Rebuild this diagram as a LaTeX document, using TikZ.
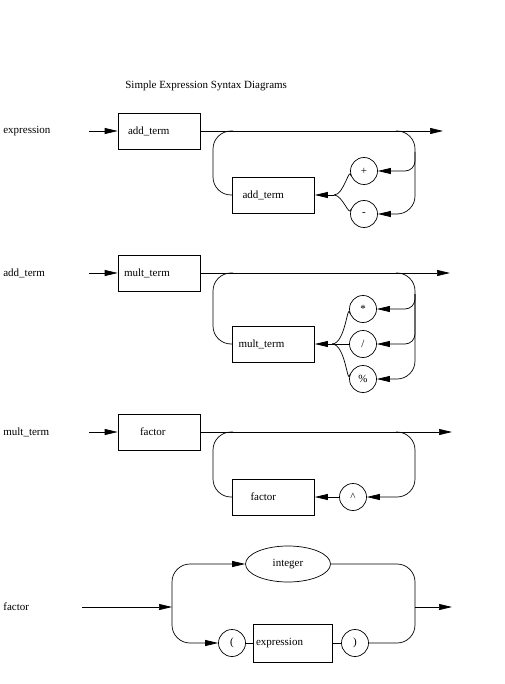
\documentclass[tikz,border=0pt]{standalone}
\usepackage{fontspec}
\setmainfont{Liberation Serif}
\usetikzlibrary{arrows.meta,shapes.geometric}

\begin{document}
\begin{tikzpicture}[x=1pt, y=-1pt, line width=0.7pt,
  every node/.style={font=\fontsize{11}{13}\selectfont},
  term/.style={draw, minimum height=36pt, text width=70pt, inner xsep=6pt, align=left},
  tok/.style={draw, circle, minimum size=27pt, inner sep=0pt},
  lbl/.style={anchor=west, inner sep=0pt},
  arr/.style={-{Triangle[length=13pt,width=6pt]}},
  loop/.style={rounded corners=18pt},
  fan/.style={rounded corners=10pt}
]
\useasboundingbox (0,0) rectangle (504,684);
\node[lbl] (title) at (125,86) {Simple Expression Syntax Diagrams};

% expression
\node[lbl] (l-expr) at (3,131) {expression};
\coordinate (e-in) at (89,131);
\coordinate (e-out) at (443,131);
\coordinate (e-l) at (233,131);
\coordinate (e-r) at (396,131);
\coordinate (e-v) at (415,152);
\coordinate (e-m) at (334,195);
\node[term] (e-t1) at (159,131) {\hspace*{4pt}add\_term};
\node[term] (e-t2) at (273.5,195) {\hspace*{4pt}add\_term};
\node[tok] (e-plus) at (364,171) {+};
\node[tok] (e-minus) at (364,214) {-};
\draw[arr] (e-in) -- (e-t1.west);
\draw[arr] (e-t1.east) -- (e-out);
\draw[loop] (e-l) -- ++(-20,0) |- (e-t2.west);
\draw[loop,arr] (e-r) -- ++(19,0) |- (e-minus.east);
\draw[fan,arr] (e-v) |- (e-plus.east);
\draw (e-plus.200) to[out=100,in=0] (e-m);
\draw (e-minus.160) to[out=-100,in=0] (e-m);
\draw[arr] (e-m) -- (e-t2.east);

% add_term
\node[lbl] (l-add) at (3,273) {add\_term};
\coordinate (a-in) at (89,273);
\coordinate (a-out) at (450,273);
\coordinate (a-l) at (233,273);
\coordinate (a-r) at (396,273);
\coordinate (a-v) at (415,294);
\coordinate (a-m) at (332,344);
\node[term] (a-t1) at (159,273) {mult\_term};
\node[term] (a-t2) at (273.5,344) {mult\_term};
\node[tok] (a-star) at (363,309) {*};
\node[tok] (a-slash) at (363,344) {/};
\node[tok] (a-pct) at (363,379) {\%};
\draw[arr] (a-in) -- (a-t1.west);
\draw[arr] (a-t1.east) -- (a-out);
\draw[loop] (a-l) -- ++(-20,0) |- (a-t2.west);
\draw[loop,arr] (a-r) -- ++(19,0) |- (a-pct.east);
\draw[fan,arr] (a-v) |- (a-star.east);
\draw[fan,arr] (a-v) |- (a-slash.east);
\draw (a-star.200) to[out=100,in=0] (a-m);
\draw (a-slash.west) -- (a-m);
\draw (a-pct.160) to[out=-100,in=0] (a-m);
\draw[arr] (a-m) -- (a-t2.east);

% mult_term
\node[lbl] (l-mult) at (3,432) {mult\_term};
\coordinate (m-in) at (89,432);
\coordinate (m-out) at (452,432);
\coordinate (m-l) at (233,432);
\coordinate (m-r) at (396,432);
\node[term] (m-t1) at (159,432) {\hspace*{16pt}factor};
\node[term] (m-t2) at (273.5,497) {\hspace*{12pt}factor};
\node[tok] (m-hat) at (353,497) {\textasciicircum};
\draw[arr] (m-in) -- (m-t1.west);
\draw[arr] (m-t1.east) -- (m-out);
\draw[loop] (m-l) -- ++(-20,0) |- (m-t2.west);
\draw[loop,arr] (m-r) -- ++(19,0) |- (m-hat.east);
\draw[arr] (m-hat) -- (m-t2.east);

% factor
\node[lbl] (l-fac) at (3,607) {factor};
\coordinate (f-in) at (82,607);
\coordinate (f-s) at (172,607);
\coordinate (f-o) at (415,607);
\coordinate (f-out) at (452,607);
\node[draw, ellipse, minimum width=85pt, minimum height=36pt, inner sep=0pt] (f-int) at (288,564) {integer};
\node[tok] (f-lp) at (232,643) {(};
\node[term, text width=73pt, inner xsep=3pt, minimum height=38pt] (f-ex) at (292.5,643) {expression};
\node[tok] (f-rp) at (355,643) {)};
\draw[arr] (f-in) -- (f-s);
\draw[loop,arr] (f-s) |- (f-int.west);
\draw[loop,arr] (f-s) |- (f-lp.west);
\draw (f-lp) -- (f-ex);
\draw (f-ex) -- (f-rp);
\draw[loop] (f-int.east) -| (f-o);
\draw[loop] (f-rp.east) -| (f-o);
\draw[arr] (f-o) -- (f-out);
\end{tikzpicture}
\end{document}
